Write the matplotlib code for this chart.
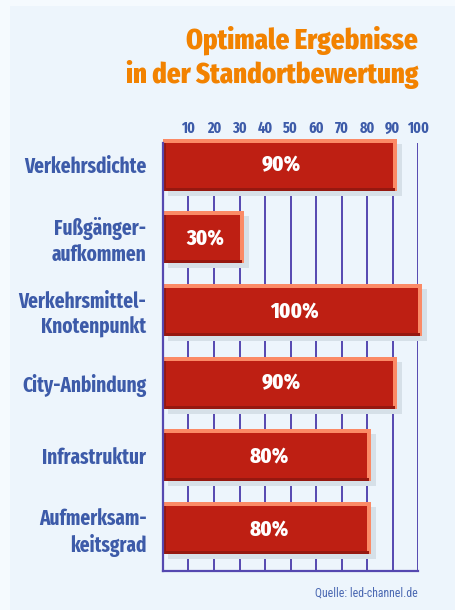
import matplotlib

matplotlib.use("Agg")
import matplotlib.pyplot as plt
from matplotlib.patches import Rectangle

# ── Data ──────────────────────────────────────────────────────────────────────
categories = [
    "Verkehrsdichte",
    "Fußgänger-\naufkommen",
    "Verkehrsmittel-\nKnotenpunkt",
    "City-Anbindung",
    "Infrastruktur",
    "Aufmerksam-\nkeitsgrad",
]
values = [90, 30, 100, 90, 80, 80]
ticks = [10, 20, 30, 40, 50, 60, 70, 80, 90, 100]

# ── Palette ───────────────────────────────────────────────────────────────────
C_OUTER = "#F5FAFE"
C_PANEL = "#EDF5FC"
C_RED = "#BE1F13"
C_DARK = "#961810"
C_SALMON = "#FB8A66"
C_SHADOW = "#D6E0E8"
C_GRID = "#5548B0"
C_LABEL = "#3D5BA9"
C_TITLE = "#F28200"
FONT = ["Fira Sans Extra Condensed", "DejaVu Sans"]
FONT_SRC = ["Roboto Condensed", "DejaVu Sans"]

W, H = 456, 610
fig = plt.figure(figsize=(W / 100, H / 100), dpi=100, facecolor=C_OUTER)
fig.patches.append(
    Rectangle((10 / W, 0), 1 - 10 / W, 1 - 6 / H, transform=fig.transFigure,
              facecolor=C_PANEL, edgecolor="none", zorder=-5)
)

# axes in pixel coords: left 163, right 418, top 143, bottom 571
ax = fig.add_axes([163 / W, 1 - 571 / H, (418 - 163) / W, (571 - 143) / H])
ax.set_facecolor("none")
ax.set_xlim(0, 100)
ax.set_ylim(5.59, -0.296)

# px -> data helpers
px_x = 100 / 255.0
px_y = 5.886 / 428.0
bh = 52 * px_y

ypos = list(range(len(values)))

# grid
for t in ticks:
    ax.axvline(t, color=C_GRID, lw=1.4, zorder=1)

# shadow
ax.barh([y + 5 * px_y for y in ypos], [v + 4 * px_x for v in values],
        left=5 * px_x, height=bh, color=C_SHADOW, zorder=2, clip_on=False)
# salmon body (top + right strip)
ax.barh(ypos, [v + 4 * px_x for v in values], height=bh, color=C_SALMON,
        zorder=3, clip_on=False)
# red body
ax.barh([y + 2 * px_y for y in ypos], values, height=bh - 4 * px_y,
        color=C_RED, zorder=4, clip_on=False)
# dark bottom strip
ax.barh([y + bh / 2 - 1.5 * px_y for y in ypos], [v + 2 * px_x for v in values],
        height=3 * px_y, color=C_DARK, zorder=5, clip_on=False)
# dark left edge
ax.barh([y + 2 * px_y for y in ypos], [3 * px_x] * len(values),
        height=bh - 4 * px_y, color=C_DARK, zorder=5, clip_on=False)

for y, v in zip(ypos, values):
    ax.text(v / 2 + 1.5, y + 1 * px_y, f"{v}%", ha="center", va="center",
            color="white", fontsize=16, fontweight=800, family=FONT, zorder=6)

# spines / ticks
for s in ["top", "right"]:
    ax.spines[s].set_visible(False)
for s in ["left", "bottom"]:
    ax.spines[s].set_color(C_GRID)
    ax.spines[s].set_linewidth(1.6)
    ax.spines[s].set_zorder(7)

ax.xaxis.tick_top()
ax.set_xticks(ticks)
ax.set_xticklabels([str(t) for t in ticks], color=C_LABEL, fontsize=11,
                   fontweight="bold", family=FONT)
ax.tick_params(axis="x", length=0, pad=5)
ax.set_yticks(ypos)
ax.set_yticklabels(categories, color=C_LABEL, fontsize=15, fontweight="bold",
                   family=FONT, linespacing=1.25, ha="right")
ax.tick_params(axis="y", length=0, pad=12)

# title
fig.text(418 / W, 1 - 40 / H, "Optimale Ergebnisse", ha="right", va="center",
         color=C_TITLE, fontsize=21, fontweight=800, family=FONT)
fig.text(418 / W, 1 - 75 / H, "in der Standortbewertung", ha="right", va="center",
         color=C_TITLE, fontsize=21, fontweight=800, family=FONT)

# source
fig.text(418 / W, 1 - 593 / H, "Quelle: led-channel.de", ha="right", va="center",
         color="#4A68B2", fontsize=8.5, family=FONT_SRC)

fig.savefig("out.png", dpi=100, facecolor=C_OUTER)
